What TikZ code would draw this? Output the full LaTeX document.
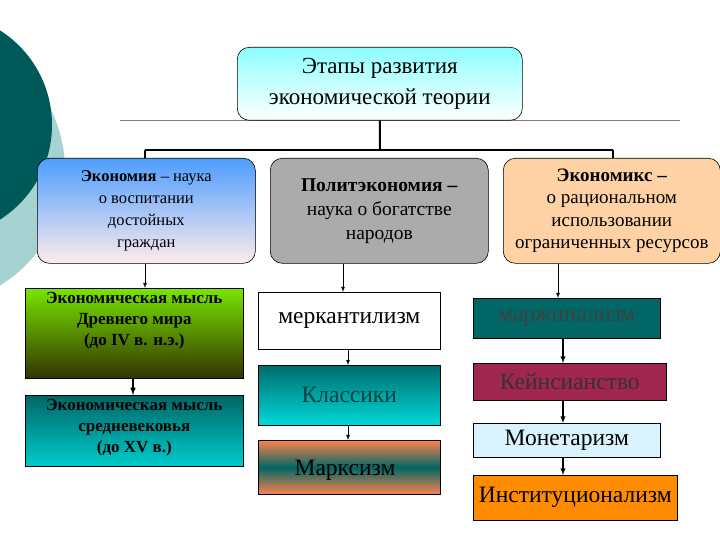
\documentclass[tikz,border=0pt]{standalone}
\usepackage{fontspec}
\setmainfont{Liberation Serif}
\begin{document}
\begin{tikzpicture}[x=1pt,y=-1pt,
 box/.style={draw=black,line width=0.6pt,align=center,inner sep=0pt,anchor=north west},
 rbox/.style={box,rounded corners=12pt},
 arr/.style={-latex,line width=0.8pt},
 big/.style={font=\fontsize{23.5}{28}\selectfont},
 conn/.style={line width=2pt}]
\useasboundingbox (0,0) rectangle (720,540);
\fill[white] (0,0) rectangle (720,540);
\begin{scope}
\clip (0,0) rectangle (720,540);
\fill[teal!35!white] (-70,170) circle (135);
\fill[teal!70!black] (-60,125) circle (112);
\end{scope}
\draw[gray,line width=0.6pt] (120,120) -- (680,120);
% title
\node[rbox,minimum width=285pt,minimum height=73pt,top color=cyan!45!white,bottom color=white,font=\fontsize{23}{31}\selectfont] (t) at (237,47) {Этапы развития\\экономической теории};
% top boxes
\node[rbox,minimum width=218pt,minimum height=105pt,top color=blue!55!cyan!70!white,bottom color=pink!30!white,font=\fontsize{16.5}{22}\selectfont] (a) at (37,158) {\textbf{Экономия} – наука\\о воспитании\\достойных\\граждан};
\node[rbox,minimum width=218pt,minimum height=105pt,fill=black!33,font=\fontsize{19.5}{24}\selectfont] (b) at (270,158) {\textbf{Политэкономия –}\\наука о богатстве\\народов};
\node[rbox,minimum width=217pt,minimum height=105pt,fill=orange!35!white,font=\fontsize{19}{22.5}\selectfont] (c) at (503,158) {\textbf{Экономикс –}\\о рациональном\\использовании\\ограниченных ресурсов};
\coordinate (j) at (380,150);
\draw[conn] (t.south) -- (j);
\draw[conn] (145,150) -- (613,150);
\draw[conn] (145,150) -- (145,158);
\draw[conn] (613,150) -- (613,158);
% left column
\node[box,minimum width=218pt,minimum height=90pt,top color=lime!70!green!90!black,bottom color=olive!40!black] (d) at (25,288) {};
\node[font=\bfseries\fontsize{17}{21}\selectfont,align=center,anchor=north] at ([yshift=-1pt]d.north) {Экономическая мысль\\Древнего мира\\(до IV в. н.э.)};
\node[box,minimum width=218pt,minimum height=71pt,top color=teal!80!black,bottom color=cyan!60!teal] (e) at (25,395) {};
\node[font=\bfseries\fontsize{17}{21}\selectfont,align=center,anchor=north] at ([yshift=-1pt]e.north) {Экономическая мысль\\средневековья\\(до XV в.)};
\draw[arr] (a.south -| 145,0) -- (d.north -| 145,0);
\draw[arr,line width=1.5pt] (d.south -| 133,0) -- (e.north -| 133,0);
% middle column
\node[box,big,minimum width=182pt,minimum height=57pt,fill=white] (f) at (258,292) {меркантилизм};
\node[box,big,minimum width=182pt,minimum height=60pt,top color=teal!85!black,bottom color=cyan!70!teal,text=teal!50!black] (g) at (258,365) {Классики};
\node[box,minimum width=182pt,minimum height=54pt,top color=orange!60!red!70!white,bottom color=orange!60!red!70!white,middle color=teal!80!black] (h) at (258,440) {};
\node[big,anchor=south] at (345,484) {Марксизм};
\draw[arr] (b.south -| 343,0) -- (f.north -| 343,0);
\draw[arr] (f.south -| 348,0) -- (g.north -| 348,0);
\draw[arr] (g.south -| 348,0) -- (h.north -| 348,0);
% right column
\node[box,big,minimum width=187pt,minimum height=40pt,fill=teal!80!black,text=black!75] (k) at (473,298) {маржинализм};
\node[box,big,minimum width=193pt,minimum height=37pt,fill=purple!75!black!85,text=black!80] (l) at (473,363) {Кейнсианство};
\node[box,big,minimum width=187pt,minimum height=34pt,fill=cyan!15!white] (m) at (473,423) {Монетаризм};
\node[box,big,minimum width=204pt,minimum height=45pt,fill=orange!90!yellow] (n) at (473,475) {Институционализм};
\draw[arr] (c.south -| 558,0) -- (k.north -| 558,0);
\draw[arr,line width=1.3pt] (k.south -| 563,0) -- (l.north -| 563,0);
\draw[arr,line width=1.3pt] (l.south -| 563,0) -- (m.north -| 563,0);
\draw[arr,line width=1.3pt] (m.south -| 563,0) -- (n.north -| 563,0);
\end{tikzpicture}
\end{document}
